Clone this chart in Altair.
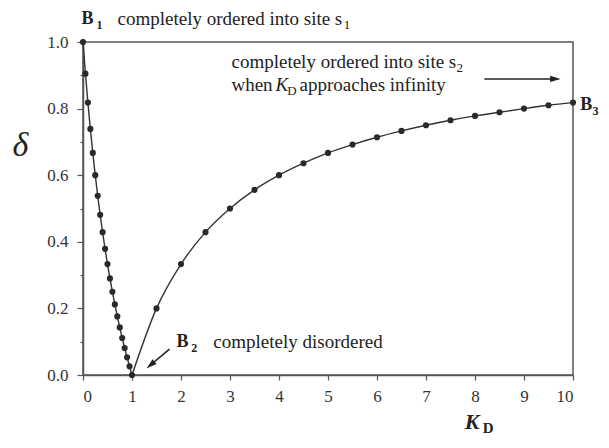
import altair as alt
import pandas as pd

# ---- data ----
k_left = [0.0, 0.05, 0.10, 0.15, 0.20, 0.25, 0.30, 0.35, 0.40, 0.45, 0.50,
          0.55, 0.60, 0.65, 0.70, 0.75, 0.80, 0.85, 0.90, 0.95, 1.0]
d_left = [1.0, 0.905, 0.818, 0.739, 0.667, 0.600, 0.538, 0.481, 0.429, 0.379, 0.333,
          0.290, 0.250, 0.212, 0.176, 0.143, 0.111, 0.081, 0.053, 0.026, 0.0]
k_right = [1.0, 1.5, 2.0, 2.5, 3.0, 3.5, 4.0, 4.5, 5.0, 5.5, 6.0,
           6.5, 7.0, 7.5, 8.0, 8.5, 9.0, 9.5, 10.0]
d_right = [0.0, 0.200, 0.333, 0.429, 0.500, 0.556, 0.600, 0.636, 0.667, 0.692, 0.714,
           0.733, 0.750, 0.765, 0.778, 0.789, 0.800, 0.810, 0.818]
x_ticks = list(range(0, 11))
y_ticks = [0.0, 0.1, 0.2, 0.3, 0.4, 0.5, 0.6, 0.7, 0.8, 0.9, 1.0]

df_left = pd.DataFrame({"K": k_left, "d": d_left})
df_right = pd.DataFrame({"K": k_right, "d": d_right})
df_pts = pd.concat([df_left, df_right.iloc[1:]], ignore_index=True)

FONT = "Liberation Serif"
INK = "#333333"

xs = alt.Scale(domain=[0, 10], nice=False, zero=False)
ys = alt.Scale(domain=[0, 1], nice=False, zero=False)
xaxis = alt.Axis(values=x_ticks, format="d", tickSize=5, labelPadding=8, title=None)
yaxis = alt.Axis(
    values=y_ticks,
    labelExpr="round(datum.value*10) % 2 == 0 ? format(datum.value, '.1f') : ''",
    tickSize={"condition": {"test": "round(datum.value*10) % 2 == 0", "value": 6}, "value": 3},
    labelPadding=9,
    title=None,
)


def X(f):
    return alt.X(f, type="quantitative", scale=xs, axis=xaxis, title=None)


def Y(f):
    return alt.Y(f, type="quantitative", scale=ys, axis=yaxis, title=None)


line_left = alt.Chart(df_left).mark_line(color=INK, strokeWidth=1.4).encode(x=X("K"), y=Y("d"))
line_right = alt.Chart(df_right).mark_line(color=INK, strokeWidth=1.4, interpolate="monotone").encode(
    x=X("K"), y=Y("d"))
points = alt.Chart(df_pts).mark_circle(color="#2a2a2a", size=38, opacity=1).encode(x=X("K"), y=Y("d"))

# ---- annotations ----
def txt(xv, yv, s, size, weight="normal", style="normal", align="left"):
    d = pd.DataFrame({"x": [xv], "y": [yv], "t": [s]})
    return alt.Chart(d).mark_text(
        font=FONT, fontSize=size, fontWeight=weight, fontStyle=style, align=align,
        baseline="middle", color="#222222"
    ).encode(x=X("x"), y=Y("y"), text="t:N")


ann = [
    txt(-0.03, 1.069, "B", 18, "bold"),
    txt(0.276, 1.052, "1", 12, "bold"),
    txt(0.704, 1.069, "completely ordered into site s", 19),
    txt(5.32, 1.052, "1", 13),
    txt(3.03, 0.940, "completely ordered into site s", 19),
    txt(7.62, 0.922, "2", 13),
    txt(3.03, 0.871, "when", 19),
    txt(3.93, 0.871, "K", 19, style="italic"),
    txt(4.17, 0.853, "D", 13),
    txt(4.42, 0.871, "approaches infinity", 19),
    txt(10.15, 0.811, "B", 18, "bold"),
    txt(10.40, 0.793, "3", 12, "bold"),
    txt(1.91, 0.099, "B", 18, "bold"),
    txt(2.21, 0.081, "2", 12, "bold"),
    txt(2.66, 0.099, "completely disordered", 19),
    txt(-1.276, 0.688, "δ", 34, style="italic", align="center"),
    txt(7.79, -0.140, "K", 22, "bold", "italic"),
    txt(8.16, -0.158, "D", 15, "bold"),
]

arrows = pd.DataFrame({
    "x": [8.19, 1.765],
    "y": [0.889, 0.078],
    "x2": [9.62, 1.378],
    "y2": [0.889, 0.030],
})
arrow_lines = alt.Chart(arrows).mark_rule(color="#222222", strokeWidth=1.6).encode(
    x=X("x"), y=Y("y"), x2="x2:Q", y2="y2:Q")

head_path = "M-1,-0.6L1,0L-1,0.6Z"
head_r = alt.Chart(pd.DataFrame({"x": [9.64], "y": [0.889]})).mark_point(
    shape=head_path, filled=True, size=110, color="#222222", opacity=1, angle=0
).encode(x=X("x"), y=Y("y"))
head_b2 = alt.Chart(pd.DataFrame({"x": [1.378], "y": [0.030]})).mark_point(
    shape=head_path, filled=True, size=110, color="#222222", opacity=1, angle=140
).encode(x=X("x"), y=Y("y"))

chart = alt.layer(line_left, line_right, points, arrow_lines, head_r, head_b2, *ann).properties(
    width=490, height=333,
    autosize=alt.AutoSizeParams(type="none"),
    padding={"left": 75, "top": 34, "right": 27, "bottom": 63},
).configure_view(
    stroke="#555555", strokeWidth=1.5
).configure_axis(
    labelFont=FONT, labelFontSize=17, labelColor="#333333",
    domainColor="#555555", domainWidth=1.5, tickColor="#555555", tickWidth=1.2,
    grid=False,
)

chart.save("out.html", embed_options={"renderer": "svg", "actions": False})
